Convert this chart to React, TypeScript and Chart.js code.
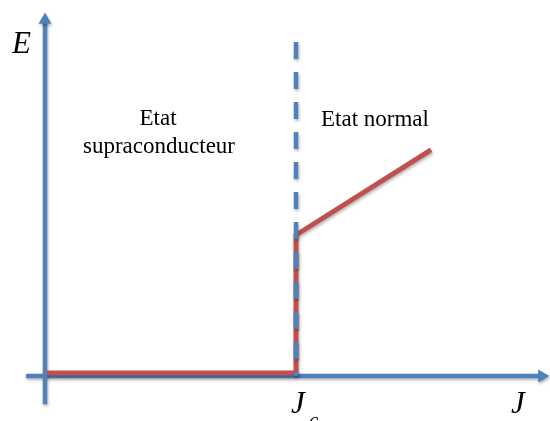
import React, { useEffect, useRef } from "react";
import { Chart, registerables } from "chart.js";

Chart.register(...registerables);

// ---- data (J in units of Jc, E in units of the jump at Jc) ----
const jcValue = 1;
const xAxisJ = [-0.076, 1.98];
const yAxisE = [-0.2, 2.525];
const curveJ = [0.008, 1.0, 1.0, 1.538];
const curveE = [0.021, 0.021, 1.0, 1.603];
const jcLineE = [2.369, 0];
const scaleJ = [-0.1793, 2.012];
const scaleE = [-0.3191, 2.6667];

const axisLabelE = "E";
const axisLabelJ = "J";
const jcLabel = "J";
const jcSub = "c";
const stateSuper = ["Etat", "supraconducteur"];
const stateNormal = "Etat normal";

const BLUE = "#4F81BD";
const RED = "#C0504D";

const shadowPlugin = {
  id: "shadow",
  beforeDatasetDraw(chart: any) {
    const ctx = chart.ctx;
    ctx.save();
    ctx.shadowColor = "rgba(0,0,0,0.28)";
    ctx.shadowBlur = 3;
    ctx.shadowOffsetX = 1;
    ctx.shadowOffsetY = 2;
  },
  afterDatasetDraw(chart: any) {
    chart.ctx.restore();
  },
};

const labelPlugin = {
  id: "labels",
  afterDraw(chart: any) {
    const ctx = chart.ctx;
    const xs = chart.scales.x;
    ctx.save();
    ctx.fillStyle = "#000";
    ctx.textBaseline = "alphabetic";
    // state texts
    ctx.font = '23px "Liberation Serif", "Times New Roman", serif';
    ctx.textAlign = "center";
    ctx.fillText(stateSuper[0], 158, 125);
    ctx.fillText(stateSuper[1], 159, 153);
    ctx.fillText(stateNormal, 375, 126);
    // axis letters
    ctx.font = 'italic 31px "Liberation Serif", "Times New Roman", serif';
    ctx.textAlign = "left";
    ctx.fillText(axisLabelE, 12, 53);
    ctx.fillText(axisLabelJ, 511, 413);
    const jx = xs.getPixelForValue(jcValue);
    ctx.fillText(jcLabel, jx - 5, 413);
    ctx.font = 'italic 21px "Liberation Serif", "Times New Roman", serif';
    ctx.fillText(jcSub, jx + 13, 427);
    ctx.restore();
  },
};

export default function App() {
  const ref = useRef<HTMLCanvasElement | null>(null);
  useEffect(() => {
    if (!ref.current) return;
    const chart = new Chart(ref.current, {
      type: "scatter",
      data: {
        // first dataset is drawn on top
        datasets: [
          {
            data: jcLineE.map((e) => ({ x: jcValue, y: e })),
            showLine: true,
            borderColor: BLUE,
            borderWidth: 4.5,
            borderDash: [17, 13],
            pointRadius: 0,
            clip: false,
          },
          {
            data: curveJ.map((j, i) => ({ x: j, y: curveE[i] })),
            showLine: true,
            borderColor: RED,
            borderWidth: 5,
            pointRadius: 0,
            borderJoinStyle: "miter",
            clip: false,
          },
          {
            data: yAxisE.map((e) => ({ x: 0, y: e })),
            showLine: true,
            borderColor: BLUE,
            borderWidth: 4.5,
            pointRadius: [0, 7.5],
            pointStyle: "triangle",
            pointRotation: 0,
            pointBackgroundColor: BLUE,
            pointBorderWidth: 0,
            clip: false,
          },
          {
            data: xAxisJ.map((j) => ({ x: j, y: 0 })),
            showLine: true,
            borderColor: BLUE,
            borderWidth: 4.5,
            pointRadius: [0, 7.5],
            pointStyle: "triangle",
            pointRotation: 90,
            pointBackgroundColor: BLUE,
            pointBorderWidth: 0,
            clip: false,
          },
        ],
      },
      options: {
        animation: false,
        responsive: false,
        layout: { padding: 0, autoPadding: false },
        plugins: { legend: { display: false }, tooltip: { enabled: false } },
        events: [],
        scales: {
          x: { type: "linear", min: scaleJ[0], max: scaleJ[1], display: false },
          y: { type: "linear", min: scaleE[0], max: scaleE[1], display: false },
        },
      },
      plugins: [shadowPlugin, labelPlugin],
    } as any);
    return () => chart.destroy();
  }, []);
  return (
    <div style={{ position: "fixed", left: 0, top: 0, width: 550, height: 421, background: "#fff" }}>
      <canvas ref={ref} width={550} height={421} />
    </div>
  );
}
